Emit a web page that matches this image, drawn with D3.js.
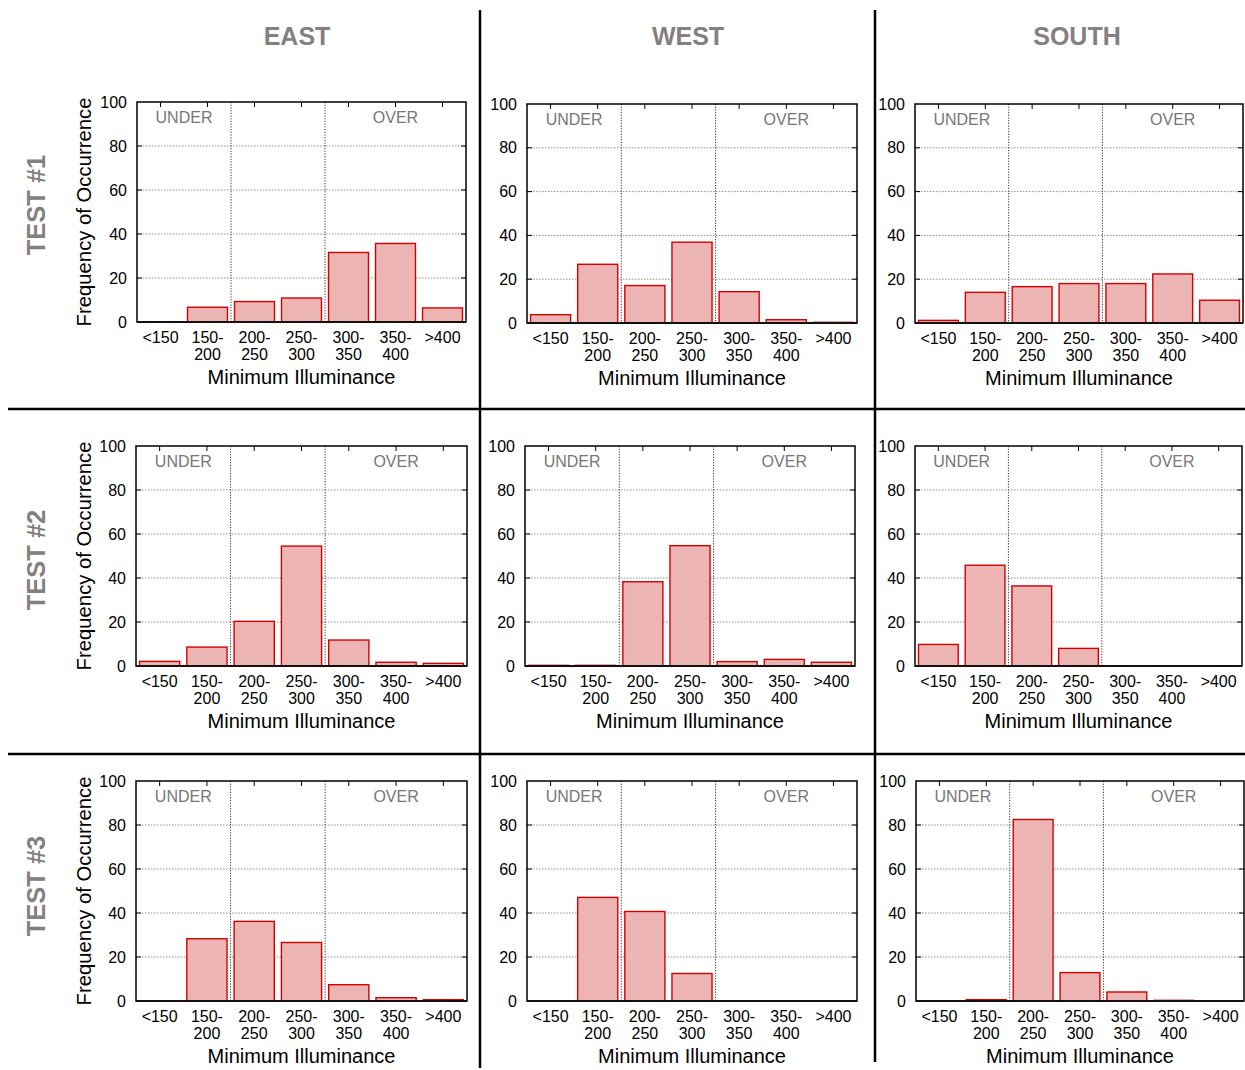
<!DOCTYPE html>
<html>
<head>
<meta charset="utf-8">
<script src="https://cdn.jsdelivr.net/npm/d3@7"></script>
<style>
  html, body { margin: 0; padding: 0; background: #fff; }
  svg { display: block; font-family: "Liberation Sans", Arial, Helvetica, sans-serif; }
</style>
</head>
<body>
<svg id="chart" width="1245" height="1070"></svg>
<script>
// Illuminance bins shared by every histogram
const categories = ["<150", "150-200", "200-250", "250-300", "300-350", "350-400", ">400"];
const regions = ["EAST", "WEST", "SOUTH"];
const tests = ["TEST #1", "TEST #2", "TEST #3"];
const yTicks = [0, 20, 40, 60, 80, 100];

// Frequency of occurrence (%) per bin, one array per test / orientation
const test1East  = [0, 6.7, 9.3, 10.9, 31.6, 35.7, 6.4];
const test1West  = [3.8, 26.8, 17.1, 36.9, 14.3, 1.5, 0.3];
const test1South = [1.2, 14.0, 16.6, 18.0, 18.0, 22.4, 10.4];
const test2East  = [2.1, 8.6, 20.3, 54.5, 11.8, 1.7, 1.2];
const test2West  = [0.3, 0.3, 38.3, 54.7, 2.0, 3.0, 1.7];
const test2South = [9.8, 45.8, 36.4, 8.0, 0, 0, 0];
const test3East  = [0, 28.3, 36.2, 26.6, 7.4, 1.5, 0.6];
const test3West  = [0, 47.1, 40.7, 12.5, 0, 0, 0];
const test3South = [0, 0.6, 82.5, 12.9, 4.1, 0.3, 0];

const panelValues = [
  [test1East, test1West, test1South],
  [test2East, test2West, test2South],
  [test3East, test3West, test3South]
];

// Plot-area boxes for each panel [left, right, top, bottom]
const boxes = [
  [[137, 466, 102, 322], [527, 857, 104, 323], [915, 1243, 104, 323]],
  [[136, 467, 446, 666], [525, 855, 446, 666], [915, 1242, 446, 666]],
  [[136, 467, 781, 1001], [527, 857, 781, 1001], [916, 1244, 781, 1001]]
];

const svg = d3.select("#chart");
const titleColor = "#858080";

// Column headings
const colTitleX = [297, 688, 1077];
regions.forEach((r, i) => {
  svg.append("text")
    .attr("x", colTitleX[i]).attr("y", 45)
    .attr("text-anchor", "middle")
    .attr("font-size", 25).attr("font-weight", "bold")
    .attr("fill", titleColor)
    .text(r);
});

// Row headings (rotated)
const rowTitleY = [205, 560, 886];
tests.forEach((t, i) => {
  svg.append("text")
    .attr("transform", `translate(45,${rowTitleY[i]}) rotate(-90)`)
    .attr("text-anchor", "middle")
    .attr("font-size", 25.5).attr("font-weight", "bold")
    .attr("fill", titleColor)
    .text(t);
});

function drawPanel(row, col) {
  const [L, R, T, B] = boxes[row][col];
  const values = panelValues[row][col];
  const g = svg.append("g");

  const x = d3.scaleBand().domain(categories).range([L, R])
    .paddingInner(0.15).paddingOuter(0.075);
  const y = d3.scaleLinear().domain([0, 100]).range([B, T]);
  const step = x.step();
  const boundary = i => L + step * i;

  // horizontal grid
  g.selectAll(".hgrid").data(yTicks.filter(v => v > 0 && v < 100)).join("line")
    .attr("x1", L).attr("x2", R)
    .attr("y1", d => y(d)).attr("y2", d => y(d))
    .attr("stroke", "#8f8f8f").attr("stroke-width", 1)
    .attr("stroke-dasharray", "1.5,1.5");

  // UNDER / OVER dividers
  [2, 4].forEach(i => {
    g.append("line")
      .attr("x1", boundary(i)).attr("x2", boundary(i))
      .attr("y1", T).attr("y2", B)
      .attr("stroke", "#333").attr("stroke-width", 1)
      .attr("stroke-dasharray", "1.2,1.5");
  });

  // zone labels
  g.append("text")
    .attr("x", boundary(1)).attr("y", y(90.5))
    .attr("text-anchor", "middle").attr("font-size", 16).attr("fill", "#777")
    .text("UNDER");
  g.append("text")
    .attr("x", x(categories[5]) + x.bandwidth() / 2).attr("y", y(90.5))
    .attr("text-anchor", "middle").attr("font-size", 16).attr("fill", "#777")
    .text("OVER");

  // bars
  g.selectAll(".bar").data(categories.map((c, i) => ({ c, v: values[i] })).filter(d => d.v > 0))
    .join("rect")
    .attr("x", d => x(d.c))
    .attr("width", x.bandwidth())
    .attr("y", d => y(d.v))
    .attr("height", d => y(0) - y(d.v))
    .attr("fill", "#edb4b4")
    .attr("stroke", "#d40000").attr("stroke-width", 1.4);

  // inward ticks on all four sides
  const tl = 5;
  yTicks.filter(v => v > 0 && v < 100).forEach(v => {
    g.append("line").attr("x1", L).attr("x2", L + tl).attr("y1", y(v)).attr("y2", y(v))
      .attr("stroke", "#000").attr("stroke-width", 1);
    g.append("line").attr("x1", R).attr("x2", R - tl).attr("y1", y(v)).attr("y2", y(v))
      .attr("stroke", "#000").attr("stroke-width", 1);
  });
  categories.forEach(c => {
    const cx = x(c) + x.bandwidth() / 2;
    g.append("line").attr("x1", cx).attr("x2", cx).attr("y1", T).attr("y2", T + tl)
      .attr("stroke", "#000").attr("stroke-width", 1);
  });

  // frame
  g.append("rect").attr("x", L).attr("y", T).attr("width", R - L).attr("height", B - T)
    .attr("fill", "none").attr("stroke", "#000").attr("stroke-width", 1.5);
  g.append("line").attr("x1", L).attr("x2", R).attr("y1", B).attr("y2", B)
    .attr("stroke", "#111").attr("stroke-width", 2);

  // y axis labels
  const yAxis = d3.axisLeft(y).tickValues(yTicks).tickSize(0).tickPadding(10);
  const ya = g.append("g").attr("transform", `translate(${L},0)`).call(yAxis);
  ya.select(".domain").remove();
  ya.selectAll("text").attr("font-size", 16).attr("fill", "#000")
    .attr("font-family", "'Liberation Sans', Arial, sans-serif");

  // x axis labels (two lines for ranges)
  const xAxis = d3.axisBottom(x).tickSize(0).tickPadding(0).tickFormat("");
  const xa = g.append("g").attr("transform", `translate(0,${B})`).call(xAxis);
  xa.select(".domain").remove();
  xa.selectAll(".tick").each(function(d) {
    const parts = d.includes("-") ? [d.split("-")[0] + "-", d.split("-")[1]] : [d];
    const t = d3.select(this).append("text")
      .attr("text-anchor", "middle").attr("font-size", 16).attr("fill", "#000")
      .attr("font-family", "'Liberation Sans', Arial, sans-serif");
    parts.forEach((p, k) => {
      t.append("tspan").attr("x", 0).attr("y", 21 + k * 16.5).text(p);
    });
  });

  // x title
  g.append("text")
    .attr("x", (L + R) / 2).attr("y", B + 62)
    .attr("text-anchor", "middle").attr("font-size", 20).attr("fill", "#000")
    .text("Minimum Illuminance");

  // y title only on first column
  if (col === 0) {
    g.append("text")
      .attr("transform", `translate(91,${(T + B) / 2}) rotate(-90)`)
      .attr("text-anchor", "middle").attr("font-size", 20.3).attr("fill", "#000")
      .text("Frequency of Occurrence");
  }
}

for (let r = 0; r < 3; r++) for (let c = 0; c < 3; c++) drawPanel(r, c);

// panel separators
const sep = svg.append("g").attr("stroke", "#000").attr("stroke-width", 2.5);
sep.append("line").attr("x1", 480).attr("x2", 480).attr("y1", 10).attr("y2", 1068);
sep.append("line").attr("x1", 875).attr("x2", 875).attr("y1", 10).attr("y2", 1062);
sep.append("line").attr("x1", 8).attr("x2", 1245).attr("y1", 409).attr("y2", 409);
sep.append("line").attr("x1", 8).attr("x2", 1245).attr("y1", 754).attr("y2", 754);
</script>
</body>
</html>
